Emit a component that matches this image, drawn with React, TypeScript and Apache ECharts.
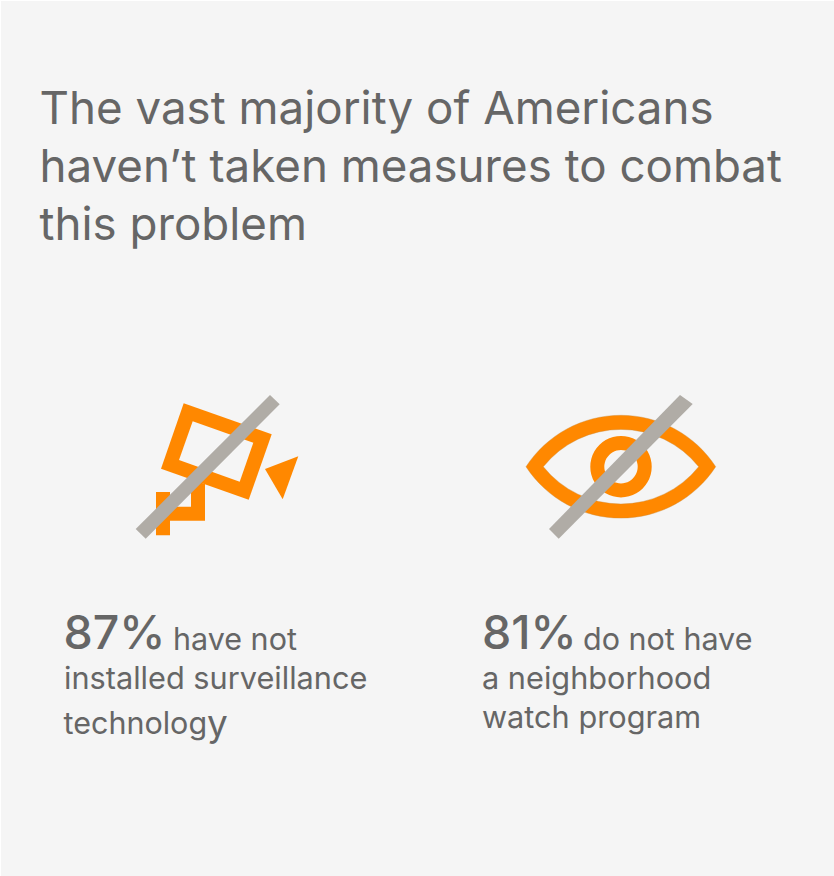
import React, { useEffect, useRef } from "react";
import * as echarts from "echarts";

const titleLines = [
  "The vast majority of Americans",
  "haven’t taken measures to combat",
  "this problem",
];
const percentValues = [87, 81];
const firstLines = ["have not", "do not have"];
const secondLines = ["installed surveillance", "a neighborhood"];
const thirdLines = ["technolog", "watch program"];

const FONT = "Inter";
const GREY = "#666666";
const ORANGE = "#ff8800";
const SLASH = "#b0aca6";

const eyePath =
  "M526 466.7 A113.2 113.2 0 0 1 715.7 466.7 A113.2 113.2 0 0 1 526 466.7 Z " +
  "M543.3 466.7 A99.6 99.6 0 0 0 698.7 466.7 A99.6 99.6 0 0 0 543.3 466.7 Z";
echarts.graphic.registerShape("eyeShape", echarts.graphic.extendPath(eyePath, {}) as any);

function t(text: string, x: number, y: number, size: number, weight = 400) {
  return {
    type: "text",
    x,
    y,
    style: { text, fill: GREY, fontFamily: FONT, fontSize: size, fontWeight: weight, textAlign: "left", textVerticalAlign: "bottom" },
  };
}
function poly(points: number[][], fill: string) {
  return { type: "polygon", shape: { points }, style: { fill } };
}

export default function App() {
  const ref = useRef<HTMLDivElement>(null);
  useEffect(() => {
    document.body.style.margin = "0";
    const chart = echarts.init(ref.current!, null, { renderer: "svg" });
    const elements: any[] = [
      { type: "rect", shape: { x: 1, y: 1, width: 833, height: 875 }, style: { fill: "#f5f5f5" } },
      ...titleLines.map((s, i) => t(s, 39.5, 130 + i * 58, 45.7)),
      poly([[183.7, 403.3], [271.7, 434.3], [248.7, 499.7], [161, 468.7]], ORANGE),
      poly([[192.7, 421.3], [253.3, 442.7], [239.7, 481.7], [179, 460]], "#f5f5f5"),
      poly([[265, 469], [298.3, 456.3], [282.7, 499.3]], ORANGE),
      poly([[156, 492], [170, 492], [170, 506.7], [191, 506.7], [191, 479], [205, 484], [205, 520.7], [170, 520.7], [170, 535.3], [156, 535.3]], ORANGE),
      poly([[270, 395], [279.7, 404.3], [145.7, 538.7], [135.7, 529]], SLASH),
      { type: "eyeShape", style: { fill: ORANGE, stroke: "#c98a3c", lineWidth: 0.4 } },
      { type: "ring", shape: { cx: 621, cy: 466.7, r: 30.7, r0: 16.7 }, style: { fill: ORANGE } },
      poly([[680, 395], [692.7, 404], [558.7, 538.7], [549, 529]], SLASH),
      t(`${percentValues[0]}%`, 63.5, 655, 46.5, 500),
      t(firstLines[0], 173, 654, 30.5),
      t(`${percentValues[1]}%`, 482, 655, 46.5, 500),
      t(firstLines[1], 583, 654, 30.5),
      t(secondLines[0], 64, 693, 30.7),
      t(secondLines[1], 482, 693, 30.7),
      {
        type: "text",
        x: 63.5,
        y: 704,
        style: {
          text: `{c|${thirdLines[0]}}{y|y}`,
          rich: {
            c: { fontFamily: FONT, fontSize: 30.5, fontWeight: 400, fill: GREY },
            y: { fontFamily: FONT, fontSize: 37, fontWeight: 400, fill: GREY },
          },
        },
      },
      t(thirdLines[1], 482, 732, 30.7),
    ];
    chart.setOption({ animation: false, backgroundColor: "#ffffff", graphic: { elements } });
    return () => chart.dispose();
  }, []);
  return <div ref={ref} style={{ width: 834, height: 876 }} />;
}
